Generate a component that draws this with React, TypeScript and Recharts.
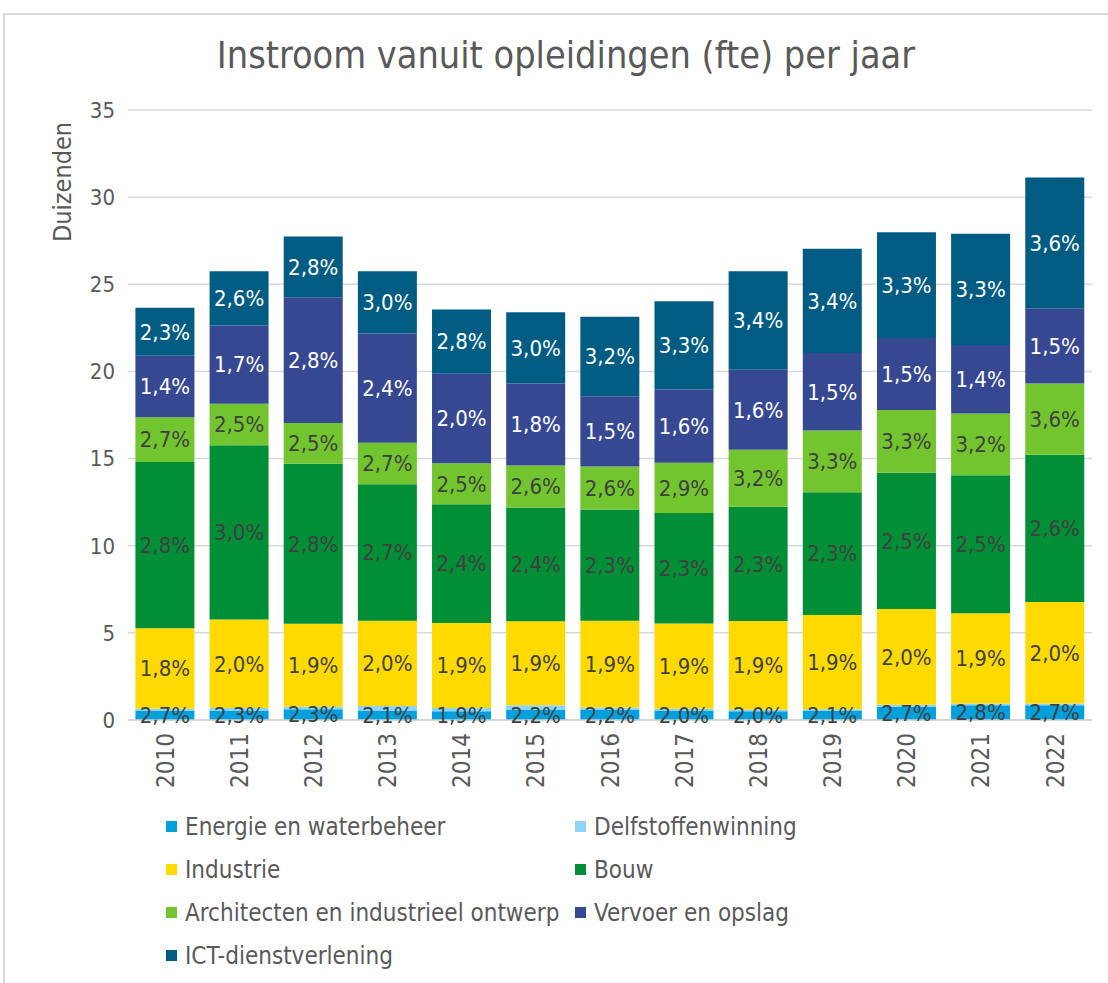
import React from 'react';
import { BarChart, Bar, XAxis, YAxis, CartesianGrid, Legend, LabelList } from 'recharts';

const years = ['2010', '2011', '2012', '2013', '2014', '2015', '2016', '2017', '2018', '2019', '2020', '2021', '2022'];

// duizenden fte per sector
const energie = [0.55, 0.55, 0.62, 0.55, 0.5, 0.6, 0.6, 0.55, 0.5, 0.55, 0.76, 0.85, 0.85];
const delfstoffen = [0.1, 0.14, 0.14, 0.26, 0.19, 0.25, 0.12, 0.1, 0.1, 0.07, 0.12, 0.1, 0.1];
const industrie = [4.62, 5.08, 4.76, 4.89, 4.88, 4.81, 4.98, 4.89, 5.08, 5.41, 5.49, 5.17, 5.82];
const bouw = [9.53, 10.0, 9.19, 7.83, 6.81, 6.53, 6.38, 6.33, 6.56, 7.04, 7.81, 7.92, 8.45];
const architecten = [2.57, 2.38, 2.33, 2.38, 2.35, 2.41, 2.47, 2.89, 3.26, 3.54, 3.6, 3.54, 4.09];
const vervoer = [3.53, 4.48, 7.21, 6.26, 5.13, 4.71, 4.02, 4.2, 4.59, 4.45, 4.14, 3.94, 4.32];
const ict = [2.75, 3.12, 3.49, 3.58, 3.7, 4.08, 4.57, 5.06, 5.66, 5.98, 6.07, 6.38, 7.5];

// percentage labels shown in the segments
const energieLabels = ['2,7%', '2,3%', '2,3%', '2,1%', '1,9%', '2,2%', '2,2%', '2,0%', '2,0%', '2,1%', '2,7%', '2,8%', '2,7%'];
const industrieLabels = ['1,8%', '2,0%', '1,9%', '2,0%', '1,9%', '1,9%', '1,9%', '1,9%', '1,9%', '1,9%', '2,0%', '1,9%', '2,0%'];
const bouwLabels = ['2,8%', '3,0%', '2,8%', '2,7%', '2,4%', '2,4%', '2,3%', '2,3%', '2,3%', '2,3%', '2,5%', '2,5%', '2,6%'];
const architectenLabels = ['2,7%', '2,5%', '2,5%', '2,7%', '2,5%', '2,6%', '2,6%', '2,9%', '3,2%', '3,3%', '3,3%', '3,2%', '3,6%'];
const vervoerLabels = ['1,4%', '1,7%', '2,8%', '2,4%', '2,0%', '1,8%', '1,5%', '1,6%', '1,6%', '1,5%', '1,5%', '1,4%', '1,5%'];
const ictLabels = ['2,3%', '2,6%', '2,8%', '3,0%', '2,8%', '3,0%', '3,2%', '3,3%', '3,4%', '3,4%', '3,3%', '3,3%', '3,6%'];

const yTicks = [0, 5, 10, 15, 20, 25, 30, 35];

const FONT = '"DejaVu Sans Condensed", "DejaVu Sans", sans-serif';
const TEXT = '#595959';

const series = [
  { key: 'energie', name: 'Energie en waterbeheer', color: '#00a0dc', labelKey: 'energieLabel', labelColor: '#404040' },
  { key: 'delfstoffen', name: 'Delfstoffenwinning', color: '#8fd3f8', labelKey: null, labelColor: '#404040' },
  { key: 'industrie', name: 'Industrie', color: '#ffda00', labelKey: 'industrieLabel', labelColor: '#404040' },
  { key: 'bouw', name: 'Bouw', color: '#008f36', labelKey: 'bouwLabel', labelColor: '#404040' },
  { key: 'architecten', name: 'Architecten en industrieel ontwerp', color: '#72c52e', labelKey: 'architectenLabel', labelColor: '#404040' },
  { key: 'vervoer', name: 'Vervoer en opslag', color: '#374893', labelKey: 'vervoerLabel', labelColor: '#ffffff' },
  { key: 'ict', name: 'ICT-dienstverlening', color: '#005c82', labelKey: 'ictLabel', labelColor: '#ffffff' },
];

const data = years.map((year, i) => ({
  year,
  energie: energie[i],
  delfstoffen: delfstoffen[i],
  industrie: industrie[i],
  bouw: bouw[i],
  architecten: architecten[i],
  vervoer: vervoer[i],
  ict: ict[i],
  energieLabel: energieLabels[i],
  industrieLabel: industrieLabels[i],
  bouwLabel: bouwLabels[i],
  architectenLabel: architectenLabels[i],
  vervoerLabel: vervoerLabels[i],
  ictLabel: ictLabels[i],
}));

const YearTick = (props: any) => {
  const { x, y, payload } = props;
  return (
    <text
      x={x}
      y={y}
      transform={`rotate(-90, ${x}, ${y})`}
      textAnchor="end"
      dy="0.36em"
      fill={TEXT}
      fontSize={24}
      fontFamily={FONT}
    >
      {payload.value}
    </text>
  );
};

const AxisTitle = (props: any) => {
  const { viewBox } = props;
  const x = viewBox.x + 62;
  const y = viewBox.y + 72;
  return (
    <text
      x={x}
      y={y}
      transform={`rotate(-90, ${x}, ${y})`}
      textAnchor="middle"
      dy="0.36em"
      fill={TEXT}
      fontSize={25}
      fontFamily={FONT}
    >
      Duizenden
    </text>
  );
};

const LegendBox = () => (
  <div
    style={{
      display: 'grid',
      gridTemplateColumns: '409px 320px',
      gridAutoRows: '43px',
      fontFamily: FONT,
      fontSize: 24,
      color: TEXT,
    }}
  >
    {series.map((s) => (
      <div key={s.key} style={{ display: 'flex', alignItems: 'center', whiteSpace: 'nowrap' }}>
        <span style={{ width: 11, height: 11, background: s.color, marginRight: 8, flex: 'none' }} />
        <span>{s.name}</span>
      </div>
    ))}
  </div>
);

export default function App() {
  return (
    <div style={{ position: 'absolute', left: 0, top: 0, width: 1108, height: 983, background: '#fff', overflow: 'hidden' }}>
      <div
        style={{
          position: 'absolute',
          left: 3,
          top: 13,
          width: 1120,
          height: 1000,
          borderLeft: '2px solid #d9d9d9',
          borderTop: '2px solid #d9d9d9',
        }}
      />
      <div
        style={{
          position: 'absolute',
          left: 0,
          top: 37,
          width: 1132,
          textAlign: 'center',
          fontFamily: FONT,
          fontSize: 37.5,
          lineHeight: '37.5px',
          color: TEXT,
        }}
      >
        Instroom vanuit opleidingen (fte) per jaar
      </div>
      <div style={{ position: 'absolute', left: 0, top: 0 }}>
        <BarChart
          width={1108}
          height={983}
          data={data}
          margin={{ top: 110, right: 16, left: 0, bottom: 183 }}
          barCategoryGap="10%"
        >
          <CartesianGrid vertical={false} stroke="#d9d9d9" strokeWidth={1.5} />
          <XAxis
            dataKey="year"
            height={80}
            tick={<YearTick />}
            tickLine={false}
            tickMargin={7}
            interval={0}
            axisLine={{ stroke: '#d0d0d0', strokeWidth: 1.5 }}
          />
          <YAxis
            width={128}
            domain={[0, 35]}
            ticks={yTicks}
            interval={0}
            axisLine={false}
            tickLine={false}
            tickMargin={7}
            tick={{ fill: TEXT, fontSize: 22, fontFamily: FONT }}
            label={<AxisTitle />}
          />
          <Legend
            layout="horizontal"
            verticalAlign="middle"
            align="center"
            wrapperStyle={{ top: 805, left: 166, width: 740 }}
            content={<LegendBox />}
          />
          {series.map((s) => (
            <Bar key={s.key} dataKey={s.key} name={s.name} stackId="a" fill={s.color} isAnimationActive={false}>
              {s.labelKey && (
                <LabelList
                  dataKey={s.labelKey}
                  position="center"
                  fill={s.labelColor}
                  fontSize={22}
                  fontFamily={FONT}
                />
              )}
            </Bar>
          ))}
        </BarChart>
      </div>
    </div>
  );
}
